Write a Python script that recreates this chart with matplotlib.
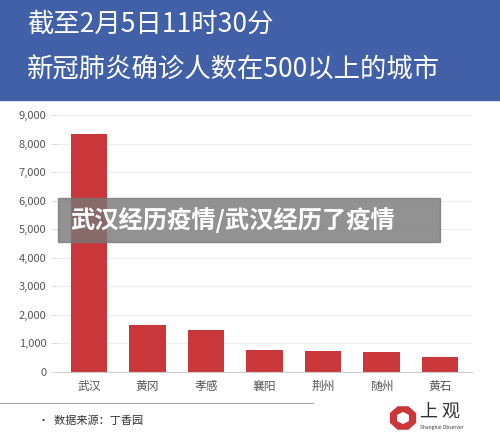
import matplotlib.pyplot as plt
from matplotlib.patches import Rectangle, RegularPolygon
from matplotlib.ticker import FuncFormatter

plt.rcParams['font.family'] = ['Noto Sans CJK SC', 'DejaVu Sans']

cities = ['武汉', '黄冈', '孝感', '襄阳', '荆州', '随州', '黄石']
cases = [8351, 1645, 1462, 755, 738, 711, 536]

fig = plt.figure(figsize=(5, 4.43), dpi=100)
W, H = 500, 443

def fx(x): return x / W
def fy(y): return 1 - y / H

# header
fig.patches.append(Rectangle((0, fy(100)), 1, 100 / H, transform=fig.transFigure,
                             color='#4260a8', zorder=0))
fig.text(fx(27), fy(24), '截至2月5日11时30分', color='white', fontsize=19, va='center')
fig.text(fx(27), fy(70), '新冠肺炎确诊人数在500以上的城市', color='white', fontsize=19, va='center')

ax = fig.add_axes([fx(57), fy(372), fx(472) - fx(57), (372 - 115) / H])
ax.bar(cities, cases, width=0.62, color='#c9373a')
ax.set_ylim(0, 9000)
ax.set_yticks(range(0, 9001, 1000))
ax.yaxis.set_major_formatter(FuncFormatter(lambda v, p: f'{int(v):,}'))
ax.grid(axis='y', color='#eeeeee', linewidth=0.8)
ax.set_axisbelow(True)
for s in ['top', 'right', 'left']:
    ax.spines[s].set_visible(False)
ax.spines['bottom'].set_color('#cccccc')
ax.tick_params(axis='y', length=4, color='#dddddd', labelsize=8, labelcolor='#555555')
ax.tick_params(axis='x', length=0, labelsize=8.5, labelcolor='#555555', pad=6)
ax.set_xlim(-0.55, 6.55)

# overlay banner
fig.patches.append(Rectangle((fx(58), fy(242)), fx(440) - fx(58), 44 / H,
                             transform=fig.transFigure, color='#777777', alpha=0.8, zorder=5))
fig.text(fx(70), fy(220), '武汉经历疫情/武汉经历了疫情', color='white', fontsize=17.5,
         fontweight='black', va='center', zorder=6)

# footer
fig.add_artist(plt.Line2D([0, fx(313)], [fy(403), fy(403)], color='#aaaaaa', lw=0.8))
fig.text(fx(38), fy(421), '•  数据来源：丁香园', fontsize=8, color='#333333', va='center')
fig.patches.append(RegularPolygon((fx(403), fy(418)), 8, radius=0.027, orientation=0.39,
                                  transform=fig.transFigure, color='#c9373a'))
fig.patches.append(RegularPolygon((fx(403), fy(418)), 6, radius=0.012,
                                  transform=fig.transFigure, color='white'))
fig.text(fx(420), fy(412), '上 观', fontsize=13, color='#333333', va='center')
fig.text(fx(420), fy(428), 'Shanghai Observer', fontsize=3.5, color='#333333', va='center')

fig.savefig('out.png', dpi=100)
